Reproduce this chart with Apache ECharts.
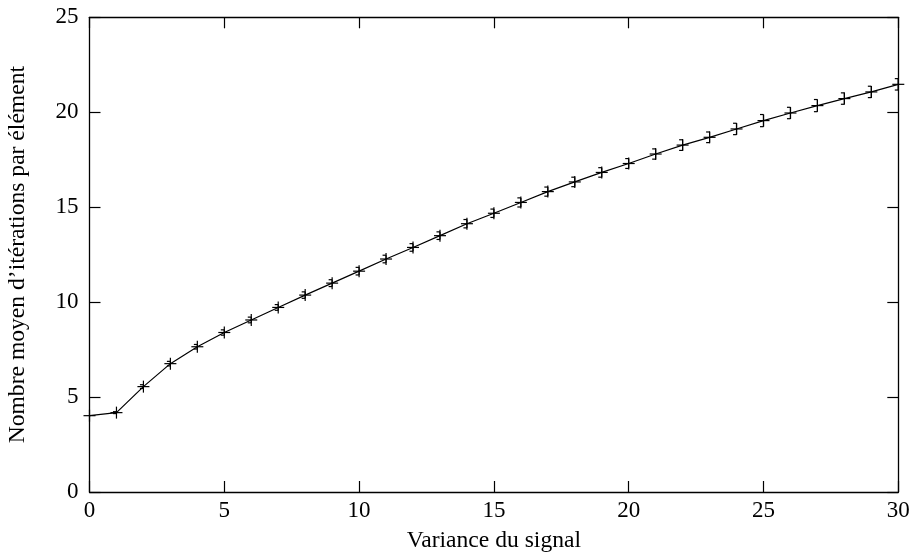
<!DOCTYPE html>
<html>
<head>
<meta charset="utf-8">
<script src="https://cdn.jsdelivr.net/npm/echarts@6/dist/echarts.min.js"></script>
<style>html,body{margin:0;padding:0;background:#fff;}#c{width:914px;height:555px;}</style>
</head>
<body>
<div id="c"></div>
<script>
const variance = [0,1,2,3,4,5,6,7,8,9,10,11,12,13,14,15,16,17,18,19,20,21,22,23,24,25,26,27,28,29,30];
const iterations = [4.02,4.18,5.55,6.76,7.65,8.4,9.06,9.72,10.37,11.0,11.63,12.27,12.88,13.5,14.13,14.68,15.25,15.82,16.33,16.83,17.3,17.8,18.27,18.68,19.12,19.56,19.96,20.35,20.72,21.07,21.47];
const errors = [0.0,0.05,0.1,0.12,0.12,0.14,0.15,0.15,0.17,0.18,0.2,0.2,0.2,0.2,0.22,0.22,0.24,0.24,0.25,0.25,0.26,0.27,0.28,0.28,0.3,0.32,0.3,0.32,0.3,0.3,0.3];
const xTicks = [0,5,10,15,20,25,30];
const yTicks = [0,5,10,15,20,25];

const font = 'Liberation Serif';
const fs = 23;
const fsName = 23.6;
const chart = echarts.init(document.getElementById('c'), null, {renderer:'canvas'});
const lineData = variance.map((v,i)=>[v, iterations[i]]);
const errData = variance.map((v,i)=>[v, iterations[i], errors[i]]);

const axisCommon = {
  min: 0,
  interval: 5,
  axisLine: {show:true, onZero:false, lineStyle:{color:'#000', width:1.3}},
  axisTick: {show:true, inside:true, length:11, lineStyle:{color:'#000', width:1.2}},
  splitLine: {show:false},
  axisLabel: {color:'#000', fontFamily:font, fontSize:fs}
};

chart.setOption({
  animation:false,
  backgroundColor:'#fff',
  grid:{left:89.5, right:15.7, top:17.3, bottom:63, containLabel:false, outerBoundsMode:'none'},
  xAxis:[
    Object.assign({}, axisCommon, {type:'value', max:30, position:'bottom',
      name:'Variance du signal', nameLocation:'middle', nameGap:37,
      nameTextStyle:{color:'#000', fontFamily:font, fontSize:fsName},
      axisLabel:{color:'#000', fontFamily:font, fontSize:fs, margin:7}}),
    Object.assign({}, axisCommon, {type:'value', max:30, position:'top', axisLabel:{show:false}})
  ],
  yAxis:[
    Object.assign({}, axisCommon, {type:'value', max:25, position:'left',
      name:"Nombre moyen d’itérations par élément", nameLocation:'middle', nameGap:60,
      nameTextStyle:{color:'#000', fontFamily:font, fontSize:fsName},
      axisLabel:{color:'#000', fontFamily:font, fontSize:fs, margin:11}}),
    Object.assign({}, axisCommon, {type:'value', max:25, position:'right', axisLabel:{show:false}})
  ],
  series:[
    {type:'line', data:lineData, xAxisIndex:0, yAxisIndex:0, showSymbol:false,
     lineStyle:{color:'#000', width:1.2}, z:2},
    {type:'custom', data:errData, xAxisIndex:0, yAxisIndex:0, z:3,
     renderItem:function(params, api){
       const x = api.value(0), y = api.value(1), e = api.value(2);
       const p = api.coord([x,y]);
       const top = api.coord([x,y+e])[1];
       const bot = api.coord([x,y-e])[1];
       const s = {stroke:'#000', lineWidth:1.2, fill:null};
       const children = [
         {type:'line', shape:{x1:p[0]-6,y1:p[1],x2:p[0]+6,y2:p[1]}, style:s},
         {type:'line', shape:{x1:p[0],y1:p[1]-6,x2:p[0],y2:p[1]+6}, style:s}
       ];
       if (e > 0) {
         children.push({type:'line', shape:{x1:p[0],y1:top,x2:p[0],y2:bot}, style:s});
         children.push({type:'line', shape:{x1:p[0]-3.5,y1:top,x2:p[0],y2:top}, style:s});
         children.push({type:'line', shape:{x1:p[0]-3.5,y1:bot,x2:p[0],y2:bot}, style:s});
       }
       return {type:'group', children:children};
     }}
  ]
});
</script>
</body>
</html>
